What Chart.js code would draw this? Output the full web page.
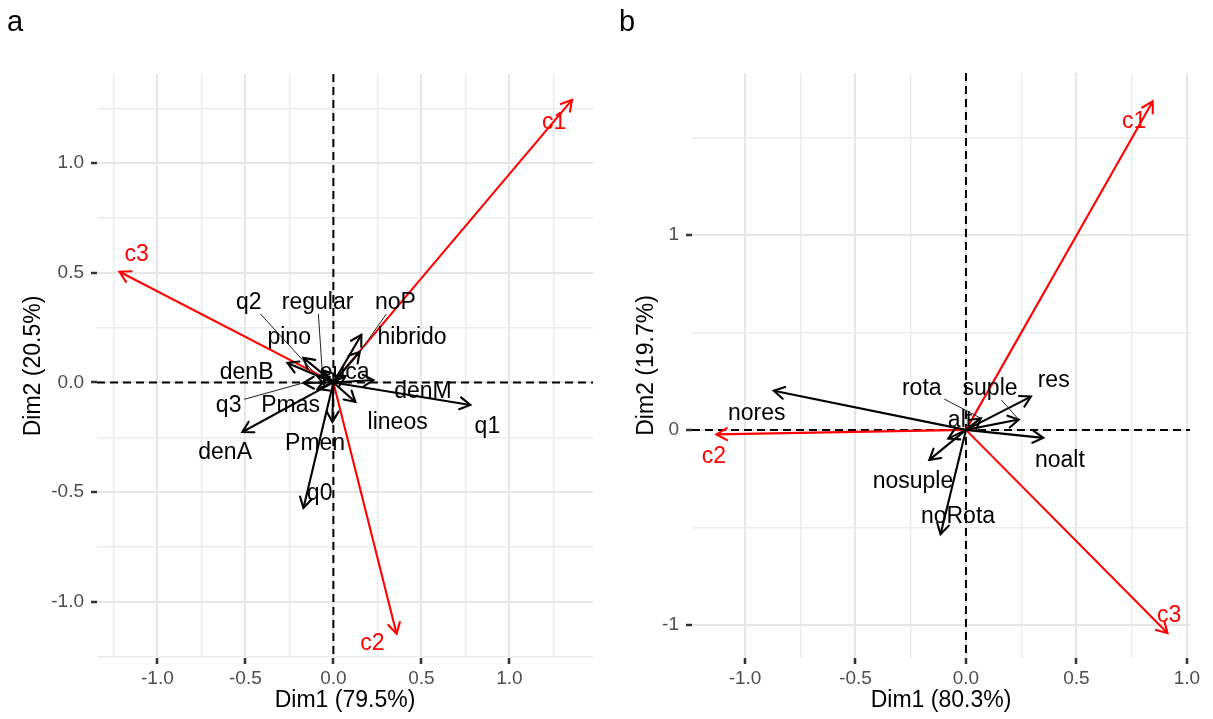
<!DOCTYPE html>
<html>
<head>
<meta charset="utf-8">
<script src="https://cdn.jsdelivr.net/npm/chart.js@4.4.1/dist/chart.umd.min.js"></script>
<style>
  body { margin: 0; background: #fff; }
  #wrap { position: relative; width: 1213px; height: 719px; }
  canvas { position: absolute; top: 0; }
</style>
</head>
<body>
<div id="wrap">
  <canvas id="canvasA" width="600" height="719" style="left:0"></canvas>
  <canvas id="canvasB" width="613" height="719" style="left:600px"></canvas>
</div>
<script>
const FONT = "'Liberation Sans', Arial, sans-serif";

// panel a - variables (black arrows)
const varsA = ['q1', 'denM', 'lineos', 'Pmen', 'q0', 'denA', 'q3', 'Pmas', 'denB', 'pino', 'q2', 'regular', 'noP', 'hibrido', 'euca'];
const dim1A = [0.778, 0.227, 0.125, -0.006, -0.170, -0.517, -0.170, -0.090, -0.261, -0.170, -0.092, -0.064, 0.150, 0.159, 0.070];
const dim2A = [-0.103, 0.011, -0.089, -0.180, -0.573, -0.226, -0.002, -0.030, 0.089, 0.112, 0.030, 0.057, 0.140, 0.217, 0.030];
const labXA = [0.875, 0.509, 0.365, -0.104, -0.078, -0.615, -0.595, -0.243, -0.493, -0.251, -0.481, -0.090, 0.352, 0.447, 0.064];
const labYA = [-0.232, -0.069, -0.214, -0.308, -0.536, -0.350, -0.133, -0.133, 0.015, 0.176, 0.334, 0.334, 0.334, 0.176, 0.015];
const leadersA = ['q3', 'q2', 'regular', 'noP'];

// panel a - supplementary (red arrows)
const suppA = ['c1', 'c2', 'c3'];
const suppDim1A = [1.356, 0.359, -1.215];
const suppDim2A = [1.289, -1.146, 0.505];
const suppLabXA = [1.254, 0.222, -1.118];
const suppLabYA = [1.158, -1.219, 0.555];

// panel b - variables
const varsB = ['nores', 'res', 'suple', 'noalt', 'nosuple', 'noRota', 'rota', 'alt'];
const dim1B = [-0.870, 0.294, 0.239, 0.350, -0.166, -0.115, 0.067, -0.080];
const dim2B = [0.201, 0.171, 0.053, -0.041, -0.154, -0.536, 0.060, -0.045];
const labXB = [-0.947, 0.397, 0.109, 0.425, -0.240, -0.036, -0.200, -0.027];
const labYB = [0.053, 0.218, 0.178, -0.190, -0.300, -0.478, 0.178, 0.013];
const leadersB = ['rota', 'suple'];

// panel b - supplementary
const suppB = ['c1', 'c2', 'c3'];
const suppDim1B = [0.845, -1.129, 0.912];
const suppDim2B = [1.686, -0.023, -1.043];
const suppLabXB = [0.761, -1.141, 0.920];
const suppLabYB = [1.549, -0.171, -0.984];

// ticks
const xTicksA = [-1, -0.5, 0, 0.5, 1];
const xTickLabelsA = ['-1.0', '-0.5', '0.0', '0.5', '1.0'];
const xMinorA = [-1.25, -0.75, -0.25, 0.25, 0.75, 1.25];
const yTicksA = [-1, -0.5, 0, 0.5, 1];
const yTickLabelsA = ['-1.0', '-0.5', '0.0', '0.5', '1.0'];
const yMinorA = [-1.25, -0.75, -0.25, 0.25, 0.75, 1.25];

const xTicksB = [-1, -0.5, 0, 0.5, 1];
const xTickLabelsB = ['-1.0', '-0.5', '0.0', '0.5', '1.0'];
const xMinorB = [-0.75, -0.25, 0.25, 0.75];
const yTicksB = [-1, 0, 1];
const yTickLabelsB = ['-1', '0', '1'];
const yMinorB = [-0.5, 0.5, 1.5];

function axis(min, max, major, labels, minor, title, titlePad, size, pad) {
    const isMajor = c => c.tick && major.includes(c.tick.value);
    return {
        type: 'linear',
        min: min,
        max: max,
        afterBuildTicks: s => {
            s.ticks = major.concat(minor).sort((a, b) => a - b).map(v => ({value: v}));
        },
        afterFit: s => {
            if (s.isHorizontal()) s.height = size; else s.width = size;
        },
        ticks: {
            callback: v => {
                const i = major.indexOf(v);
                return i < 0 ? '' : labels[i];
            },
            color: '#4d4d4d',
            font: {family: FONT, size: 19},
            autoSkip: false,
            maxRotation: 0,
            padding: pad
        },
        grid: {
            color: c => isMajor(c) ? '#e6e6e6' : '#ececec',
            lineWidth: c => isMajor(c) ? 2 : 1.4,
            tickColor: c => isMajor(c) ? '#333333' : 'rgba(0,0,0,0)',
            tickLength: 6,
            tickWidth: 2.5
        },
        border: {display: false},
        title: {
            display: true,
            text: title,
            color: '#000',
            font: {family: FONT, size: 23},
            padding: titlePad
        }
    };
}

function arrowSets(names, xs, ys, color) {
    return names.map((n, i) => ({
        label: n,
        data: [{x: 0, y: 0}, {x: xs[i], y: ys[i]}],
        showLine: true,
        borderColor: color,
        borderWidth: 2.1,
        pointRadius: 0,
        pointHoverRadius: 0
    }));
}

function biplotPlugin(letter, labelSets) {
    return {
        id: 'biplot' + letter,
        beforeDatasetsDraw(chart) {
            const {ctx, chartArea, scales} = chart;
            const x0 = scales.x.getPixelForValue(0);
            const y0 = scales.y.getPixelForValue(0);
            ctx.save();
            ctx.strokeStyle = '#000';
            ctx.lineWidth = 2;
            ctx.setLineDash([8, 5]);
            ctx.beginPath();
            ctx.moveTo(x0, chartArea.top);
            ctx.lineTo(x0, chartArea.bottom);
            ctx.moveTo(chartArea.left, y0);
            ctx.lineTo(chartArea.right, y0);
            ctx.stroke();
            ctx.restore();
        },
        afterDatasetsDraw(chart) {
            const {ctx, scales} = chart;
            ctx.save();
            // arrow heads
            chart.data.datasets.forEach((ds, i) => {
                const pts = chart.getDatasetMeta(i).data;
                const a = pts[0], b = pts[1];
                const ang = Math.atan2(b.y - a.y, b.x - a.x);
                const len = 12, spread = Math.PI / 6;
                ctx.strokeStyle = ds.borderColor;
                ctx.lineWidth = 2.1;
                ctx.lineCap = 'round';
                ctx.beginPath();
                ctx.moveTo(b.x - len * Math.cos(ang - spread), b.y - len * Math.sin(ang - spread));
                ctx.lineTo(b.x, b.y);
                ctx.lineTo(b.x - len * Math.cos(ang + spread), b.y - len * Math.sin(ang + spread));
                ctx.stroke();
            });
            // labels
            ctx.font = '23px ' + FONT;
            ctx.textAlign = 'center';
            ctx.textBaseline = 'alphabetic';
            labelSets.forEach(set => {
                set.names.forEach((n, i) => {
                    const lx = scales.x.getPixelForValue(set.lx[i]);
                    const ly = scales.y.getPixelForValue(set.ly[i]);
                    if (set.leaders.includes(n)) {
                        const tx = scales.x.getPixelForValue(set.tx[i]);
                        const ty = scales.y.getPixelForValue(set.ty[i]);
                        const hw = ctx.measureText(n).width / 2 + 3;
                        const hh = 13;
                        const cy = ly - 8;
                        const dx = tx - lx, dy = ty - cy;
                        const t = Math.min(hw / Math.abs(dx || 1e-6), hh / Math.abs(dy || 1e-6));
                        if (t < 1) {
                            ctx.strokeStyle = '#222';
                            ctx.lineWidth = 1;
                            ctx.beginPath();
                            ctx.moveTo(lx + dx * t, cy + dy * t);
                            ctx.lineTo(tx, ty);
                            ctx.stroke();
                        }
                    }
                    ctx.fillStyle = set.color;
                    ctx.fillText(n, lx, ly);
                });
            });
            ctx.restore();
        },
        afterDraw(chart) {
            const ctx = chart.ctx;
            ctx.save();
            ctx.fillStyle = '#000';
            ctx.font = '29px ' + FONT;
            ctx.textAlign = 'left';
            ctx.textBaseline = 'alphabetic';
            ctx.fillText(letter, letter === 'a' ? 7 : 19, 31);
            ctx.restore();
        }
    };
}

const chartA = new Chart(document.getElementById('canvasA'), {
    type: 'scatter',
    data: {
        datasets: arrowSets(varsA, dim1A, dim2A, '#000000')
            .concat(arrowSets(suppA, suppDim1A, suppDim2A, '#ff0000'))
    },
    options: {
        responsive: false,
        animation: false,
        layout: {padding: {top: 74, right: 7, left: 0, bottom: 0}},
        plugins: {legend: {display: false}, tooltip: {enabled: false}},
        scales: {
            x: axis(-1.343, 1.475, xTicksA, xTickLabelsA, xMinorA, 'Dim1 (79.5%)', {top: 0, bottom: 5}, 61, 3),
            y: axis(-1.257, 1.407, yTicksA, yTickLabelsA, yMinorA, 'Dim2 (20.5%)', {top: 20, bottom: 0}, 97, 7)
        }
    },
    plugins: [biplotPlugin('a', [
        {names: varsA, lx: labXA, ly: labYA, tx: dim1A, ty: dim2A, leaders: leadersA, color: '#000'},
        {names: suppA, lx: suppLabXA, ly: suppLabYA, tx: suppDim1A, ty: suppDim2A, leaders: [], color: '#ff0000'}
    ])]
});

const chartB = new Chart(document.getElementById('canvasB'), {
    type: 'scatter',
    data: {
        datasets: arrowSets(varsB, dim1B, dim2B, '#000000')
            .concat(arrowSets(suppB, suppDim1B, suppDim2B, '#ff0000'))
    },
    options: {
        responsive: false,
        animation: false,
        layout: {padding: {top: 73, right: 23, left: 0, bottom: 0}},
        plugins: {legend: {display: false}, tooltip: {enabled: false}},
        scales: {
            x: axis(-1.24, 1.014, xTicksB, xTickLabelsB, xMinorB, 'Dim1 (80.3%)', {top: 0, bottom: 5}, 61, 3),
            y: axis(-1.171, 1.832, yTicksB, yTickLabelsB, yMinorB, 'Dim2 (19.7%)', {top: 33, bottom: 0}, 92, 7)
        }
    },
    plugins: [biplotPlugin('b', [
        {names: varsB, lx: labXB, ly: labYB, tx: dim1B, ty: dim2B, leaders: leadersB, color: '#000'},
        {names: suppB, lx: suppLabXB, ly: suppLabYB, tx: suppDim1B, ty: suppDim2B, leaders: [], color: '#ff0000'}
    ])]
});
</script>
</body>
</html>
